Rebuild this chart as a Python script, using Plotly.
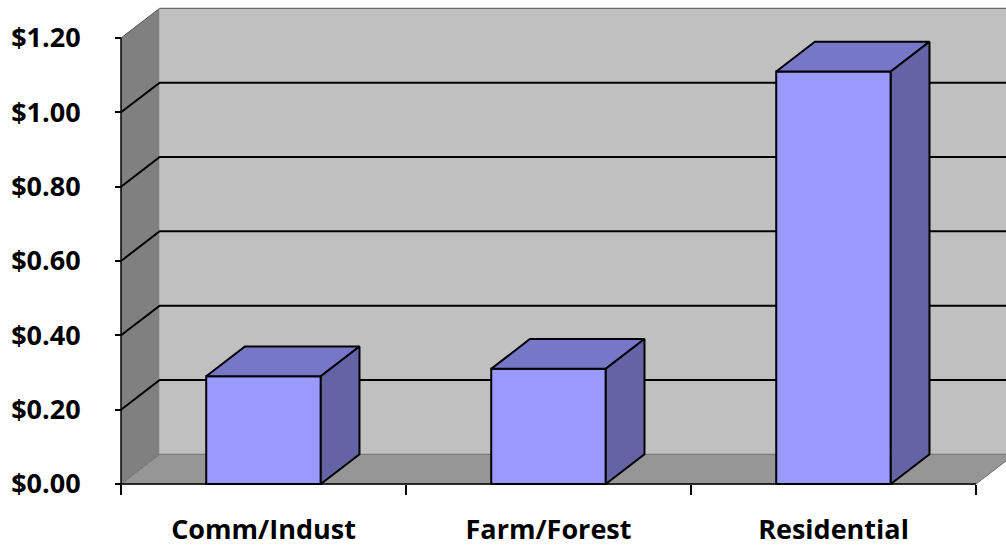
import plotly.graph_objects as go

# Cost of community services per dollar of revenue, by land use
categories = ["Comm/Indust", "Farm/Forest", "Residential"]
costs = [0.29, 0.31, 1.11]

y_ticks = [0.0, 0.2, 0.4, 0.6, 0.8, 1.0, 1.2]
y_tick_labels = ["$0.00", "$0.20", "$0.40", "$0.60", "$0.80", "$1.00", "$1.20"]

# ---- geometry of the pseudo-3D box (pixel layout -> data units) ----
FIG_W, FIG_H = 1006, 548
FRONT_LEFT_PX = 121        # pixel x of the front-left edge of the box
CAT_PX = 285               # pixel width of one category slot
ZERO_PX = 484              # pixel y of the $0.00 baseline
UNIT_PX = 446 / 1.2        # pixels per dollar
PLOT_L, PLOT_R, PLOT_T, PLOT_B = 100, 1006, 4, 490

DEPTH_X = 38.7 / CAT_PX    # depth offset, horizontal (category units)
DEPTH_Y = 29.7 / UNIT_PX   # depth offset, vertical (dollars)
HALF_W = 0.201             # half bar width (category units)
Y_TOP = y_ticks[-1]
X_LEFT = -0.5
X_RIGHT = len(categories) - 0.5

x_range = [X_LEFT - (FRONT_LEFT_PX - PLOT_L) / CAT_PX,
           X_LEFT + (PLOT_R - FRONT_LEFT_PX) / CAT_PX]
y_range = [-(PLOT_B - ZERO_PX) / UNIT_PX, (ZERO_PX - PLOT_T) / UNIT_PX]

FRONT = "#9999FF"
TOP = "#7777C7"
SIDE = "#6363A6"
FONT = "Open Sans"
FONT_SIZE = 27


def poly(pts):
    return "M " + " L ".join(f"{x},{y}" for x, y in pts) + " Z"


shapes = []
# side wall
shapes.append(dict(type="path", xref="x", yref="y", layer="below",
                   path=poly([(X_LEFT, 0), (X_LEFT, Y_TOP),
                              (X_LEFT + DEPTH_X, Y_TOP + DEPTH_Y),
                              (X_LEFT + DEPTH_X, DEPTH_Y)]),
                   fillcolor="#808080", line=dict(width=0)))
# back wall
shapes.append(dict(type="path", xref="x", yref="y", layer="below",
                   path=poly([(X_LEFT + DEPTH_X, DEPTH_Y),
                              (X_LEFT + DEPTH_X, Y_TOP + DEPTH_Y),
                              (X_RIGHT + DEPTH_X, Y_TOP + DEPTH_Y),
                              (X_RIGHT + DEPTH_X, DEPTH_Y)]),
                   fillcolor="#C0C0C0", line=dict(width=0)))
# floor
shapes.append(dict(type="path", xref="x", yref="y", layer="below",
                   path=poly([(X_LEFT, 0), (X_LEFT + DEPTH_X, DEPTH_Y),
                              (X_RIGHT + DEPTH_X, DEPTH_Y), (X_RIGHT, 0)]),
                   fillcolor="#969696", line=dict(color="#6E6E6E", width=1)))
# top edge of the walls
shapes.append(dict(type="path", xref="x", yref="y", layer="below",
                   path=f"M {X_LEFT},{Y_TOP} L {X_LEFT + DEPTH_X},{Y_TOP + DEPTH_Y} "
                        f"L {X_RIGHT + DEPTH_X},{Y_TOP + DEPTH_Y}",
                   line=dict(color="#505050", width=1)))
# gridlines on side wall and back wall
for v in y_ticks[1:-1]:
    shapes.append(dict(type="path", xref="x", yref="y", layer="below",
                       path=f"M {X_LEFT},{v} L {X_LEFT + DEPTH_X},{v + DEPTH_Y} "
                            f"L {X_RIGHT + DEPTH_X},{v + DEPTH_Y}",
                       line=dict(color="black", width=2)))
# axis lines
shapes.append(dict(type="line", xref="x", yref="y", layer="above",
                   x0=X_LEFT, x1=X_LEFT, y0=0, y1=Y_TOP,
                   line=dict(color="black", width=1.5)))
shapes.append(dict(type="line", xref="x", yref="y", layer="above",
                   x0=X_LEFT, x1=X_RIGHT, y0=0, y1=0,
                   line=dict(color="black", width=1.5)))

fig = go.Figure()

# front faces of the bars
fig.add_trace(go.Bar(x=list(range(len(categories))), y=costs, width=2 * HALF_W,
                     marker=dict(color=FRONT, line=dict(color="black", width=2)),
                     hoverinfo="skip", showlegend=False))

# top and right-hand faces of the bars
for i, v in enumerate(costs):
    l, r = i - HALF_W, i + HALF_W
    top = [(l, v), (l + DEPTH_X, v + DEPTH_Y), (r + DEPTH_X, v + DEPTH_Y), (r, v), (l, v)]
    side = [(r, 0), (r, v), (r + DEPTH_X, v + DEPTH_Y), (r + DEPTH_X, DEPTH_Y), (r, 0)]
    for pts, col in ((top, TOP), (side, SIDE)):
        fig.add_trace(go.Scatter(x=[p[0] for p in pts], y=[p[1] for p in pts],
                                 mode="lines", fill="toself", fillcolor=col,
                                 line=dict(color="black", width=2),
                                 hoverinfo="skip", showlegend=False))

fig.update_layout(
    width=FIG_W, height=FIG_H,
    margin=dict(l=0, r=0, t=0, b=0, autoexpand=False),
    paper_bgcolor="white", plot_bgcolor="white",
    shapes=shapes,
    font=dict(family=FONT, size=FONT_SIZE, color="black"),
    xaxis=dict(domain=[PLOT_L / FIG_W, PLOT_R / FIG_W], range=x_range,
               anchor="free", position=(FIG_H - ZERO_PX) / FIG_H,
               automargin=False,
               tickvals=list(range(len(categories))), ticktext=categories,
               ticks="", showgrid=False, zeroline=False, showline=False,
               tickfont=dict(family=FONT, size=FONT_SIZE, color="black", weight="bold"),
               ticklabelstandoff=27,
               minor=dict(tickvals=[X_LEFT + k for k in range(len(categories) + 1)],
                          ticks="outside", ticklen=10, tickwidth=1.5,
                          tickcolor="black", showgrid=False)),
    yaxis=dict(domain=[(FIG_H - PLOT_B) / FIG_H, (FIG_H - PLOT_T) / FIG_H],
               range=y_range, anchor="free", position=FRONT_LEFT_PX / FIG_W,
               automargin=False,
               tickvals=y_ticks, ticktext=y_tick_labels,
               ticks="outside", ticklen=6, tickwidth=1.5, tickcolor="black",
               showgrid=False, zeroline=False, showline=False,
               tickfont=dict(family=FONT, size=FONT_SIZE, color="black", weight="bold"),
               ticklabelstandoff=29),
)

fig.write_html("out.html")
